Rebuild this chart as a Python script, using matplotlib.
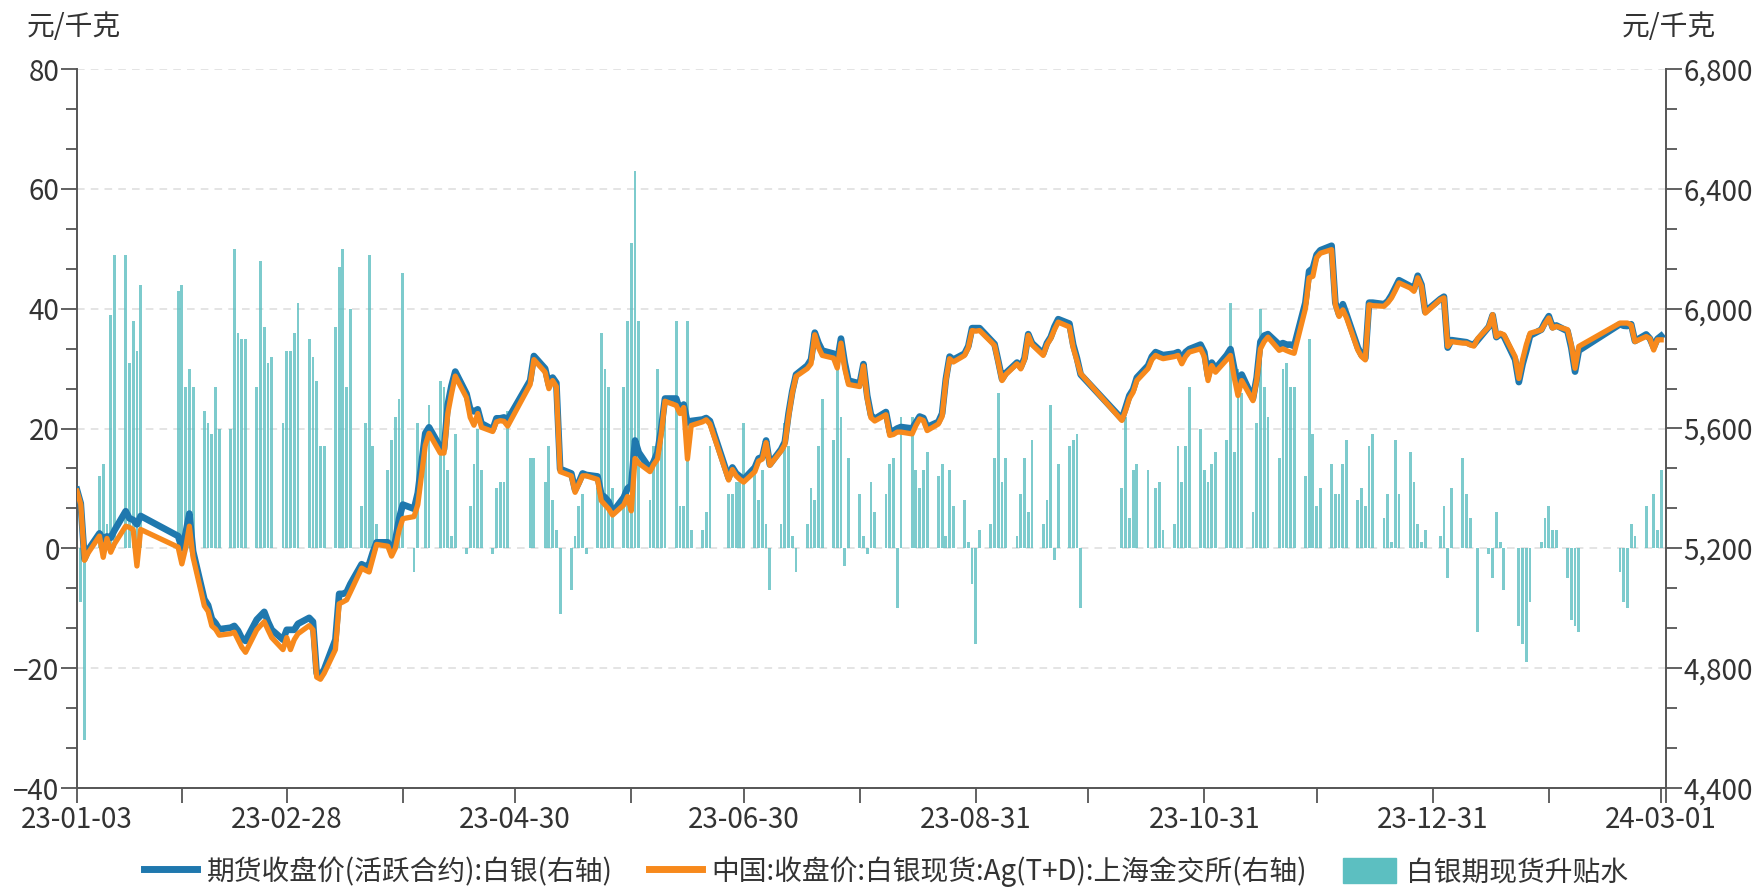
import pandas as pd
import numpy as np
import matplotlib
matplotlib.use("Agg")
import matplotlib.pyplot as plt
from matplotlib.lines import Line2D
from matplotlib.patches import Patch
from matplotlib.ticker import MultipleLocator, FuncFormatter

plt.rcParams['font.family'] = ['Noto Sans CJK SC', 'DejaVu Sans']

BLUE, ORANGE, TEAL = "#1f78ae", "#f7891c", "#5cbfc1"
AXC, TXC = "#555555", "#333333"

# exchange holidays on weekdays (no trading, no bar)
HOLIDAYS = ["2023-01-23", "2023-01-24", "2023-01-25", "2023-01-26", "2023-01-27",
            "2023-04-05", "2023-05-01", "2023-05-02", "2023-05-03",
            "2023-06-22", "2023-06-23", "2023-09-29",
            "2023-10-02", "2023-10-03", "2023-10-04", "2023-10-05", "2023-10-06",
            "2024-01-01", "2024-02-09",
            "2024-02-12", "2024-02-13", "2024-02-14", "2024-02-15", "2024-02-16"]

# 白银期现货升贴水 (left axis), one value per trading day, week by week
BASIS = [
    0, -9, -32, 0,
    12, 14, 4, 39, 49,
    49, 31, 38, 33, 44,
    43, 44, 27, 30, 27,
    23, 21, 19, 27, 20,
    20, 50, 36, 35, 35,
    27, 48, 37, 31, 32,
    21, 33, 33, 36, 41,
    35, 32, 28, 17, 17,
    37, 47, 50, 27, 40,
    7, 21, 49, 17, 4,
    13, 18, 22, 25, 46,
    -4, 21, 20, 24,
    28, 27, 13, 2, 19,
    -1, 7, 14, 20, 13,
    -1, 10, 11, 11, 23,
    15, 15,
    11, 17, 8, 3, -11,
    -7, 2, 7, 9, -1,
    10, 36, 30, 27, 10,
    27, 38, 51, 63, 38,
    8, 17, 30, 20, 25,
    38, 7, 7, 38, 3,
    3, 6, 17,
    9, 9, 11, 11, 21,
    13, 8, 13, 4, -7,
    4, 21, 17, 2, -4,
    4, 10, 8, 17, 25,
    18, 30, 22, -3, 15,
    9, 2, -1, 11, 6,
    9, 14, 15, -10, 22,
    22, 13, 10, 13, 16,
    12, 14, 2, 13, 7,
    8, 1, -6, -16, 3,
    4, 15, 26, 11, 15,
    2, 9, 15, 6, 18,
    4, 8, 24, -2, 14,
    17, 18, 19, -10,
    10, 22, 5, 13, 14,
    13, 0, 10, 11, 3,
    4, 17, 11, 17, 27,
    20, 13, 11, 14, 16,
    18, 41, 16, 30, 26,
    6, 21, 40, 27, 22,
    15, 30, 31, 27, 27,
    12, 35, 19, 7, 10,
    14, 9, 9, 14, 18,
    8, 10, 7, 17, 19,
    5, 9, 1, 18, 9,
    16, 11, 4, 1, 3,
    2, 7, -5, 10,
    15, 9, 5, 0, -14,
    -1, -5, 6, 1, -7,
    0, -13, -16, -19, -9,
    1, 5, 7, 3, 3,
    -5, -12, -13, -14,
    -4, -9, -10, 4, 2,
    7, 0, 9, 3, 13,
]

# price lines (right axis): date, futures close, SGE Ag(T+D) close
LINE_DATES = [
    "2023-01-03", "2023-01-04", "2023-01-05", "2023-01-06", "2023-01-09", "2023-01-10", "2023-01-11",
    "2023-01-12", "2023-01-13", "2023-01-16", "2023-01-17", "2023-01-18", "2023-01-19", "2023-01-20",
    "2023-01-30", "2023-01-31", "2023-02-01", "2023-02-02", "2023-02-03", "2023-02-06", "2023-02-07",
    "2023-02-08", "2023-02-09", "2023-02-10", "2023-02-13", "2023-02-14", "2023-02-15", "2023-02-16",
    "2023-02-17", "2023-02-20", "2023-02-21", "2023-02-22", "2023-02-23", "2023-02-24", "2023-02-27",
    "2023-02-28", "2023-03-01", "2023-03-02", "2023-03-03", "2023-03-06", "2023-03-07", "2023-03-08",
    "2023-03-09", "2023-03-10", "2023-03-13", "2023-03-14", "2023-03-15", "2023-03-16", "2023-03-17",
    "2023-03-20", "2023-03-21", "2023-03-22", "2023-03-23", "2023-03-24", "2023-03-27", "2023-03-28",
    "2023-03-29", "2023-03-30", "2023-03-31", "2023-04-03", "2023-04-04", "2023-04-06", "2023-04-07",
    "2023-04-10", "2023-04-11", "2023-04-12", "2023-04-13", "2023-04-14", "2023-04-17", "2023-04-18",
    "2023-04-19", "2023-04-20", "2023-04-21", "2023-04-24", "2023-04-25", "2023-04-26", "2023-04-27",
    "2023-04-28", "2023-05-04", "2023-05-05", "2023-05-08", "2023-05-09", "2023-05-10", "2023-05-11",
    "2023-05-12", "2023-05-15", "2023-05-16", "2023-05-17", "2023-05-18", "2023-05-19", "2023-05-22",
    "2023-05-23", "2023-05-24", "2023-05-25", "2023-05-26", "2023-05-29", "2023-05-30", "2023-05-31",
    "2023-06-01", "2023-06-02", "2023-06-05", "2023-06-06", "2023-06-07", "2023-06-08", "2023-06-09",
    "2023-06-12", "2023-06-13", "2023-06-14", "2023-06-15", "2023-06-16", "2023-06-19", "2023-06-20",
    "2023-06-21", "2023-06-26", "2023-06-27", "2023-06-28", "2023-06-29", "2023-06-30", "2023-07-03",
    "2023-07-04", "2023-07-05", "2023-07-06", "2023-07-07", "2023-07-10", "2023-07-11", "2023-07-12",
    "2023-07-13", "2023-07-14", "2023-07-17", "2023-07-18", "2023-07-19", "2023-07-20", "2023-07-21",
    "2023-07-24", "2023-07-25", "2023-07-26", "2023-07-27", "2023-07-28", "2023-07-31", "2023-08-01",
    "2023-08-02", "2023-08-03", "2023-08-04", "2023-08-07", "2023-08-08", "2023-08-09", "2023-08-10",
    "2023-08-11", "2023-08-14", "2023-08-15", "2023-08-16", "2023-08-17", "2023-08-18", "2023-08-21",
    "2023-08-22", "2023-08-23", "2023-08-24", "2023-08-25", "2023-08-28", "2023-08-29", "2023-08-30",
    "2023-08-31", "2023-09-01", "2023-09-04", "2023-09-05", "2023-09-06", "2023-09-07", "2023-09-08",
    "2023-09-11", "2023-09-12", "2023-09-13", "2023-09-14", "2023-09-15", "2023-09-18", "2023-09-19",
    "2023-09-20", "2023-09-21", "2023-09-22", "2023-09-25", "2023-09-26", "2023-09-27", "2023-09-28",
    "2023-10-09", "2023-10-10", "2023-10-11", "2023-10-12", "2023-10-13", "2023-10-16", "2023-10-17",
    "2023-10-18", "2023-10-19", "2023-10-20", "2023-10-23", "2023-10-24", "2023-10-25", "2023-10-26",
    "2023-10-27", "2023-10-30", "2023-10-31", "2023-11-01", "2023-11-02", "2023-11-03", "2023-11-06",
    "2023-11-07", "2023-11-08", "2023-11-09", "2023-11-10", "2023-11-13", "2023-11-14", "2023-11-15",
    "2023-11-16", "2023-11-17", "2023-11-20", "2023-11-21", "2023-11-22", "2023-11-23", "2023-11-24",
    "2023-11-27", "2023-11-28", "2023-11-29", "2023-11-30", "2023-12-01", "2023-12-04", "2023-12-05",
    "2023-12-06", "2023-12-07", "2023-12-08", "2023-12-11", "2023-12-12", "2023-12-13", "2023-12-14",
    "2023-12-15", "2023-12-18", "2023-12-19", "2023-12-20", "2023-12-21", "2023-12-22", "2023-12-25",
    "2023-12-26", "2023-12-27", "2023-12-28", "2023-12-29", "2024-01-02", "2024-01-03", "2024-01-04",
    "2024-01-05", "2024-01-08", "2024-01-09", "2024-01-10", "2024-01-11", "2024-01-12", "2024-01-15",
    "2024-01-16", "2024-01-17", "2024-01-18", "2024-01-19", "2024-01-22", "2024-01-23", "2024-01-24",
    "2024-01-25", "2024-01-26", "2024-01-29", "2024-01-30", "2024-01-31", "2024-02-01", "2024-02-02",
    "2024-02-05", "2024-02-06", "2024-02-07", "2024-02-08", "2024-02-19", "2024-02-20", "2024-02-21",
    "2024-02-22", "2024-02-23", "2024-02-26", "2024-02-27", "2024-02-28", "2024-02-29", "2024-03-01",
]
FUT_CLOSE = [
    5395, 5350, 5165, 5195, 5250, 5230, 5240,
    5235, 5260, 5324, 5300, 5295, 5280, 5308,
    5241, 5200, 5250, 5316, 5190, 5030, 5010,
    4965, 4950, 4930, 4935, 4941, 4925, 4900,
    4891, 4962, 4975, 4988, 4955, 4928, 4895,
    4928, 4928, 4928, 4948, 4968, 4955, 4783,
    4776, 4796, 4895, 5048, 5048, 5054, 5081,
    5147, 5140, 5147, 5187, 5220, 5220, 5187,
    5226, 5299, 5346, 5332, 5385, 5584, 5604,
    5538, 5531, 5680, 5743, 5790, 5716, 5664,
    5657, 5664, 5617, 5597, 5634, 5634, 5637,
    5630, 5760, 5842, 5800, 5745, 5770, 5752,
    5465, 5450, 5395, 5420, 5450, 5445, 5440,
    5380, 5370, 5355, 5320, 5370, 5400, 5410,
    5560, 5520, 5465, 5490, 5520, 5600, 5700,
    5700, 5660, 5680, 5620, 5625, 5630, 5635,
    5625, 5435, 5470, 5450, 5440, 5430, 5470,
    5500, 5505, 5560, 5480, 5530, 5555, 5650,
    5725, 5780, 5810, 5830, 5920, 5885, 5860,
    5850, 5825, 5900, 5820, 5760, 5750, 5815,
    5710, 5645, 5632, 5655, 5590, 5592, 5600,
    5605, 5600, 5620, 5640, 5635, 5605, 5622,
    5650, 5765, 5840, 5830, 5850, 5875, 5935,
    5935, 5935, 5895, 5882, 5825, 5765, 5785,
    5820, 5805, 5835, 5915, 5885, 5850, 5885,
    5905, 5940, 5965, 5950, 5880, 5835, 5780,
    5632, 5670, 5710, 5730, 5770, 5810, 5840,
    5855, 5850, 5845, 5850, 5855, 5830, 5855,
    5865, 5880, 5855, 5775, 5820, 5800, 5845,
    5865, 5800, 5745, 5780, 5700, 5770, 5890,
    5910, 5915, 5880, 5885, 5880, 5880, 5875,
    6020, 6125, 6135, 6180, 6195, 6210, 6020,
    5980, 6015, 5980, 5870, 5845, 5835, 6020,
    6020, 6015, 6025, 6045, 6070, 6095, 6075,
    6065, 6110, 6080, 5990, 6032, 6040, 5870,
    5895, 5890, 5888, 5882, 5880, 5895, 5940,
    5978, 5905, 5915, 5908, 5830, 5755, 5815,
    5860, 5910, 5930, 5955, 5975, 5938, 5944,
    5925, 5870, 5790, 5860, 5948, 5943, 5942,
    5948, 5892, 5914, 5900, 5871, 5899, 5909,
]
SPOT_CLOSE = [
    5391, 5347, 5160, 5185, 5241, 5170, 5233,
    5187, 5215, 5274, 5270, 5262, 5141, 5263,
    5204, 5148, 5200, 5274, 5170, 5008, 4990,
    4941, 4930, 4910, 4915, 4920, 4895, 4870,
    4853, 4928, 4942, 4955, 4928, 4902, 4862,
    4902, 4862, 4895, 4915, 4942, 4928, 4770,
    4763, 4783, 4862, 5015, 5021, 5028, 5054,
    5134, 5127, 5121, 5167, 5213, 5207, 5174,
    5200, 5260, 5299, 5306, 5346, 5544, 5584,
    5518, 5518, 5650, 5716, 5775, 5703, 5637,
    5611, 5650, 5604, 5590, 5622, 5626, 5624,
    5608, 5747, 5830, 5788, 5733, 5760, 5740,
    5456, 5442, 5387, 5415, 5442, 5442, 5430,
    5359, 5345, 5331, 5311, 5345, 5373, 5325,
    5500, 5484, 5456, 5480, 5498, 5581, 5691,
    5677, 5650, 5670, 5498, 5610, 5622, 5629,
    5615, 5428, 5463, 5442, 5430, 5421, 5456,
    5491, 5498, 5553, 5477, 5525, 5546, 5640,
    5719, 5774, 5800, 5816, 5913, 5870, 5844,
    5835, 5802, 5885, 5800, 5747, 5740, 5809,
    5700, 5636, 5625, 5646, 5577, 5580, 5588,
    5588, 5582, 5610, 5632, 5627, 5593, 5615,
    5640, 5760, 5833, 5822, 5844, 5870, 5927,
    5925, 5927, 5890, 5877, 5820, 5760, 5780,
    5816, 5799, 5830, 5911, 5880, 5844, 5880,
    5900, 5930, 5955, 5939, 5870, 5827, 5783,
    5627, 5660, 5700, 5721, 5760, 5800, 5830,
    5844, 5838, 5833, 5840, 5844, 5816, 5840,
    5855, 5866, 5840, 5760, 5810, 5788, 5830,
    5844, 5770, 5710, 5760, 5693, 5760, 5866,
    5890, 5905, 5861, 5866, 5860, 5855, 5851,
    6000, 6103, 6108, 6170, 6185, 6197, 6013,
    5974, 5996, 5969, 5862, 5840, 5829, 6013,
    6010, 6008, 6020, 6036, 6060, 6086, 6069,
    6058, 6103, 6075, 5985, 6030, 6036, 5874,
    5890, 5885, 5885, 5879, 5875, 5900, 5940,
    5980, 5907, 5918, 5913, 5840, 5767, 5830,
    5880, 5918, 5929, 5950, 5969, 5935, 5941,
    5930, 5880, 5801, 5874, 5952, 5952, 5952,
    5945, 5890, 5907, 5900, 5862, 5896, 5896,
]

XTICK_DATES = ["2023-01-03", "2023-02-28", "2023-04-30", "2023-06-30",
               "2023-08-31", "2023-10-31", "2023-12-31", "2024-03-01"]
XTICK_LABELS = ["23-01-03", "23-02-28", "23-04-30", "23-06-30",
                "23-08-31", "23-10-31", "23-12-31", "24-03-01"]
XMINOR_DATES = ["2023-01-31", "2023-03-31", "2023-05-31", "2023-07-31",
                "2023-09-30", "2023-11-30", "2024-01-31"]

trade_days = pd.bdate_range("2023-01-03", "2024-03-01")
trade_days = trade_days[~trade_days.isin(pd.to_datetime(HOLIDAYS))]
assert len(trade_days) == len(BASIS), (len(trade_days), len(BASIS))
line_dates = pd.to_datetime(LINE_DATES)
assert len(line_dates) == len(FUT_CLOSE) == len(SPOT_CLOSE)

W, H = 1765, 888
fig = plt.figure(figsize=(W / 100, H / 100), dpi=100)
L, R, T, B = 77, 1666, 69, 788
ax = fig.add_axes([L / W, 1 - B / H, (R - L) / W, (B - T) / H])
ax2 = ax.twinx()

ax.bar(trade_days, BASIS, width=0.75, color=TEAL, alpha=0.8, linewidth=0, zorder=2)
ax2.plot(line_dates, FUT_CLOSE, color=BLUE, lw=4.8, solid_joinstyle="round", zorder=3)
ax2.plot(line_dates, SPOT_CLOSE, color=ORANGE, lw=3.8, solid_joinstyle="round", zorder=4)

x0 = pd.Timestamp("2023-01-03")
x1 = pd.Timestamp("2024-03-01") + pd.Timedelta(hours=31)
ax.set_xlim(x0, x1)
ax.set_ylim(-40, 80)
ax2.set_ylim(4400, 6800)

ax.set_yticks(np.arange(-40, 81, 20))
ax.yaxis.set_minor_locator(MultipleLocator(20 / 3))
ax2.set_yticks(np.arange(4400, 6801, 400))
ax2.yaxis.set_minor_locator(MultipleLocator(400 / 3))
ax2.yaxis.set_major_formatter(FuncFormatter(lambda v, p: f"{v:,.0f}"))

ax.set_xticks(pd.to_datetime(XTICK_DATES))
ax.set_xticklabels(XTICK_LABELS)
ax.set_xticks(list(pd.to_datetime(XMINOR_DATES)) + [x1], minor=True)

ax.grid(axis="y", which="major", color="#dddddd", lw=1.1, ls=(0, (5, 4)))
ax.set_axisbelow(True)

for a in (ax, ax2):
    a.spines["top"].set_visible(False)
    for s in a.spines.values():
        s.set_color(AXC)
        s.set_linewidth(1.4)
ax.spines["right"].set_visible(False)
ax2.spines["left"].set_visible(False)
ax2.spines["bottom"].set_visible(False)

fs = 20
ax.tick_params(axis="y", which="major", length=11.5, width=1.3, color=AXC,
               labelsize=fs, labelcolor=TXC, pad=1)
ax.tick_params(axis="y", which="minor", length=8, width=1.3, color=AXC)
ax2.tick_params(axis="y", which="major", length=11.5, width=1.3, color=AXC,
                labelsize=fs, labelcolor=TXC, pad=1)
ax2.tick_params(axis="y", which="minor", length=8, width=1.3, color=AXC)
ax.tick_params(axis="x", which="both", length=11, width=1.3, color=AXC,
               labelsize=fs, labelcolor=TXC, pad=1)

fig.text(27 / W, 1 - 27 / H, "元/千克", ha="left", va="center", fontsize=fs, color=TXC)
fig.text(1716 / W, 1 - 27 / H, "元/千克", ha="right", va="center", fontsize=fs, color=TXC)

handles = [Line2D([0], [0], color=BLUE, lw=5),
           Line2D([0], [0], color=ORANGE, lw=5),
           Patch(facecolor=TEAL, edgecolor=TEAL)]
labels = ["期货收盘价(活跃合约):白银(右轴)",
          "中国:收盘价:白银现货:Ag(T+D):上海金交所(右轴)",
          "白银期现货升贴水"]
fig.legend(handles, labels, loc="center", bbox_to_anchor=(0.502, 1 - 872 / H),
           ncol=3, frameon=False, fontsize=20, handlelength=1.9,
           handleheight=1.0, handletextpad=0.35, columnspacing=1.3,
           labelcolor=TXC)

fig.savefig("out.png", dpi=100)
